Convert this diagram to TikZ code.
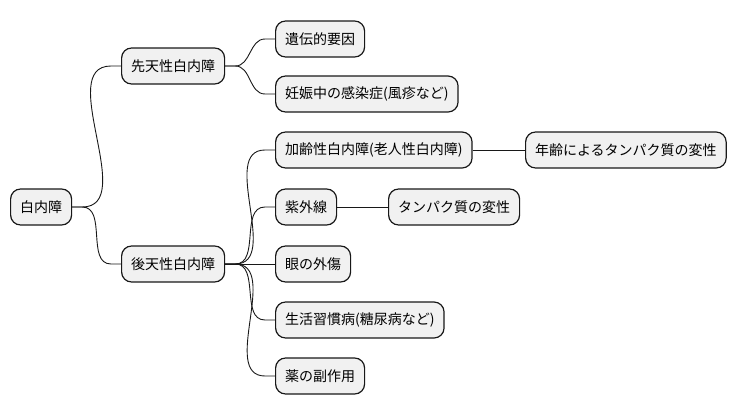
\documentclass[tikz,border=0pt]{standalone}
\usepackage{fontspec}
\setmainfont{Noto Sans CJK JP}
\definecolor{boxfill}{HTML}{F1F1F1}
\definecolor{boxline}{HTML}{181818}
\tikzset{
  topic/.style={draw=boxline, fill=boxfill, line width=1.2pt, rounded corners=10pt,
    minimum height=36pt, inner xsep=9.5pt, inner ysep=0pt, anchor=west,
    font=\fontsize{14}{16}\selectfont, text=black},
  conn/.style={draw=boxline, line width=0.9pt},
}
\newcommand{\curvelink}[2]{\draw[conn] (#1.east) -- ++(10,0) to[out=0,in=180] ([xshift=-10pt]#2.west) -- (#2.west);}
\begin{document}
\begin{tikzpicture}[x=1pt,y=-1pt]
\useasboundingbox (0,0) rectangle (737,415);
\node[topic] (root) at (10,207) {白内障};
\node[topic] (cong) at (121,66) {先天性白内障};
\node[topic] (gene) at (275,39) {遺伝的要因};
\node[topic] (infe) at (275,94) {妊娠中の感染症(風疹など)};
\node[topic] (acq) at (121,264) {後天性白内障};
\node[topic] (age) at (275,150) {加齢性白内障(老人性白内障)};
\node[topic] (agep) at (525,150) {年齢によるタンパク質の変性};
\node[topic] (uv) at (275,207) {紫外線};
\node[topic] (uvp) at (388,207) {タンパク質の変性};
\node[topic] (inj) at (275,264) {眼の外傷};
\node[topic] (life) at (275,320) {生活習慣病(糖尿病など)};
\node[topic] (drug) at (275,376) {薬の副作用};
\curvelink{root}{cong}
\curvelink{root}{acq}
\curvelink{cong}{gene}
\curvelink{cong}{infe}
\curvelink{acq}{age}
\curvelink{acq}{uv}
\draw[conn] (acq) -- (inj);
\curvelink{acq}{life}
\curvelink{acq}{drug}
\draw[conn] (age) -- (agep);
\draw[conn] (uv) -- (uvp);
\end{tikzpicture}
\end{document}
